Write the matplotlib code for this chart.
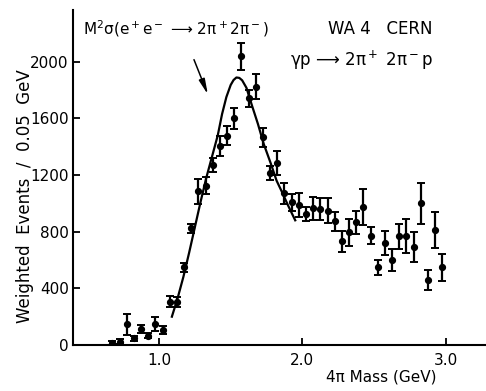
import matplotlib
matplotlib.use("Agg")
import matplotlib.pyplot as plt
import numpy as np

# 4pi mass bins (GeV), 0.05 GeV wide
mass = np.round(np.arange(47) * 0.05 + 0.675, 3)
events = [14, 24, 148, 47, 113, 66, 148, 106, 306, 306,
          548, 823, 1085, 1125, 1270, 1407, 1478, 1600, 2038, 1741,
          1824, 1466, 1212, 1285, 1071, 1007, 988, 925, 965, 960,
          948, 873, 732, 795, 866, 976, 772, 548, 720, 602,
          767, 772, 689, 1000, 459, 812, 548]
errors = [15, 15, 74, 20, 25, 20, 47, 25, 41, 35,
          30, 30, 88, 60, 50, 70, 65, 74, 94, 60,
          88, 68, 50, 82, 73, 60, 88, 50, 82, 76,
          86, 65, 75, 96, 80, 126, 61, 53, 82, 79,
          88, 120, 106, 145, 68, 126, 94]

# M^2 sigma(e+e- -> 2pi+2pi-) curve
curve_mass = [1.09, 1.13, 1.17, 1.21, 1.25, 1.29, 1.33, 1.37, 1.41, 1.44,
              1.47, 1.50, 1.52, 1.54, 1.56, 1.58, 1.61, 1.65, 1.69, 1.73,
              1.78, 1.82, 1.86, 1.90, 1.95]
curve_val = [200, 330, 480, 650, 830, 1010, 1180, 1330, 1480, 1630,
             1750, 1835, 1870, 1888, 1885, 1868, 1815, 1685, 1560, 1420,
             1280, 1160, 1075, 985, 880]

fig = plt.figure(figsize=(4.86, 3.91), dpi=100)
ax = fig.add_axes([0.150, 0.1176, 0.850, 0.8564])

ax.errorbar(mass, events, yerr=errors, fmt="o", color="black",
            markersize=4.2, elinewidth=1.6, capsize=3.2, capthick=1.4)
ax.plot(curve_mass, curve_val, color="black", linewidth=1.6)

ax.annotate("", xy=(1.348, 1750), xytext=(1.237, 2032),
            arrowprops=dict(arrowstyle="-|>,head_length=0.9,head_width=0.18",
                            color="black", lw=1.1))

ax.text(0.47, 2230, r"M$^2$σ(e$^+$e$^-$ ⟶ 2π$^+$2π$^-$)",
        fontsize=11, ha="left", va="center")
ax.text(2.91, 2230, "WA 4   CERN", fontsize=12, ha="right", va="center")
ax.text(2.91, 2010, r"γp ⟶ 2π$^+$ 2π$^-$p",
        fontsize=12, ha="right", va="center")

ax.set_xlim(0.40, 3.28)
ax.set_ylim(0, 2363)
ax.set_xticks([1.0, 2.0, 3.0])
ax.set_xticklabels(["1.0", "2.0", "3.0"])
ax.set_yticks([0, 400, 800, 1200, 1600, 2000])

ax.spines["top"].set_visible(False)
ax.spines["right"].set_visible(False)
ax.spines["left"].set_linewidth(1.5)
ax.spines["bottom"].set_linewidth(1.5)
ax.tick_params(direction="in", length=5, width=1.3, labelsize=11)
ax.tick_params(axis="x", pad=6)
ax.tick_params(axis="y", pad=3)

ax.set_ylabel("Weighted  Events  /  0.05  GeV", fontsize=12)
ax.yaxis.set_label_coords(-0.095, 0.445)
ax.set_xlabel("4π Mass (GeV)", fontsize=11)
ax.xaxis.set_label_coords(0.746, -0.072)

fig.savefig("out.png", dpi=100)
plt.close(fig)
